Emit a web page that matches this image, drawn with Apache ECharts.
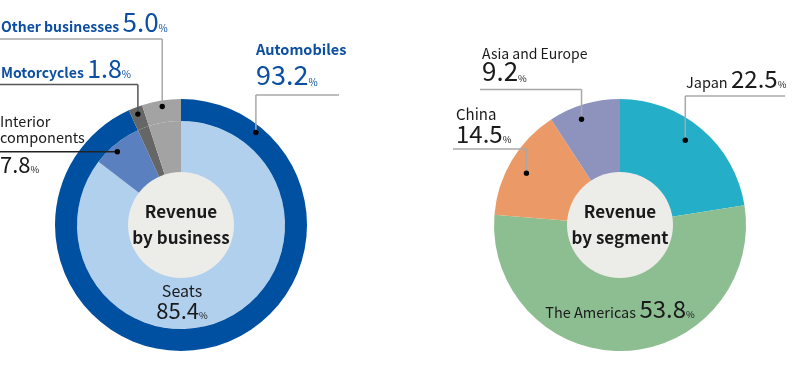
<!DOCTYPE html>
<html><head><meta charset="utf-8">
<script src="https://cdn.jsdelivr.net/npm/echarts@6/dist/echarts.min.js"></script>
<style>html,body{margin:0;padding:0;background:#fff}#c{width:801px;height:371px}</style>
</head><body><div id="c"></div>
<script>
// ---------- data ----------
const businessOuterNames = ['Automobiles', 'Motorcycles', 'Other businesses'];
const businessOuterValues = [93.2, 1.8, 5.0];
const businessInnerNames = ['Seats', 'Interior components', 'Motorcycles', 'Other businesses'];
const businessInnerValues = [85.4, 7.8, 1.8, 5.0];
const segmentNames = ['Japan', 'The Americas', 'China', 'Asia and Europe'];
const segmentValues = [22.5, 53.8, 14.5, 9.2];
const centerTitles = ['Revenue\nby business', 'Revenue\nby segment'];

// ---------- styles / layout ----------
const FONT = "'Noto Sans CJK JP','Noto Sans',sans-serif";
const BLUE = '#0b4ea2', INK = '#1a1a1a';
const C1 = [181, 225], C2 = [620, 225];
const R_IN = 104, R_OUT = 126, R_HOLE = 53;
const K = 0.8; // token box height / font size (baseline ~ box bottom)
const colors = {
  'Automobiles': '#0050a2', 'Motorcycles': '#666666', 'Other businesses': '#a3a3a3',
  'Seats': '#b0d0ee', 'Interior components': '#5a80c0',
  'Japan': '#25aec8', 'The Americas': '#8dbe92', 'China': '#eb9966', 'Asia and Europe': '#8e93bd'
};
const outerSpec = {
  'Automobiles': {x: 256, y: 86, align: 'left', color: BLUE, weight: 'bold', nameFs: 14.5, numFs: 27, pctFs: 10, sep: '\n', gap: 31,
    dot: {r: 119, angle: 39}, line: {y: 95, x2: 339, color: '#a8a8a8'}},
  'Motorcycles': {x: 1, y: 78, align: 'left', color: BLUE, weight: 'bold', nameFs: 14, numFs: 25, pctFs: 10, sep: ' ',
    dot: {r: 119}, line: {y: 84.5, x1: 0, color: '#555555'}},
  'Other businesses': {x: 1, y: 32.5, align: 'left', color: BLUE, weight: 'bold', nameFs: 14, numFs: 26, pctFs: 10, sep: ' ',
    dot: {r: 120}, line: {y: 39, x1: 0, color: '#a8a8a8'}}
};
const innerSpec = {
  'Interior components': {x: 0, y: 173, align: 'left', color: INK, weight: 'normal', nameFs: 14.5, numFs: 22, pctFs: 9.5, sep: '\n',
    text: 'Interior\ncomponents', nameLh: 16, gap: 30, dot: {r: 97, angle: 319}, line: {x1: 0, color: '#222222'}},
  'Seats': {x: 182, y: 319, align: 'center', color: INK, weight: 'normal', nameFs: 16, numFs: 22, pctFs: 9.5, sep: '\n', gap: 22}
};
const segSpec = {
  'Japan': {x: 686, y: 88.5, align: 'left', color: INK, weight: 'normal', nameFs: 14.5, numFs: 24, pctFs: 9.5, sep: ' ',
    dot: {r: 107, angle: 37.6}, line: {y: 96, x2: 785, color: '#a8a8a8'}},
  'Asia and Europe': {x: 482, y: 82, align: 'left', color: INK, weight: 'normal', nameFs: 14, numFs: 26, pctFs: 9.5, sep: '\n', gap: 23,
    dot: {r: 112.5, angle: 340}, line: {y: 89.5, x1: 480, color: '#a8a8a8'}},
  'China': {x: 456, y: 143, align: 'left', color: INK, weight: 'normal', nameFs: 15, numFs: 24, pctFs: 9.5, sep: '\n', gap: 23,
    dot: {r: 107, angle: 299}, line: {y: 149, x1: 453, color: '#a8a8a8'}},
  'The Americas': {x: 620, y: 318, align: 'center', color: INK, weight: 'normal', nameFs: 14.5, numFs: 24, pctFs: 9.5, sep: ' '}
};

function tok(fs, color, weight, lh) {
  return {fontFamily: FONT, fontSize: fs, color: color, fontWeight: weight,
    height: fs * K, lineHeight: lh || fs * K, verticalAlign: 'bottom'};
}
function makeLabel(name, value, spec) {
  if (!spec) return {show: false};
  const nameText = spec.text || name;
  const twoLine = spec.sep === '\n';
  return {
    show: true,
    formatter: '{n|' + nameText + '}' + (twoLine ? '\n' : ' ') + '{v|' + value.toFixed(1) + '}{p|%}',
    rich: {
      n: tok(spec.nameFs, spec.color, spec.weight, spec.nameLh),
      v: tok(spec.numFs, spec.color, 'normal', twoLine ? spec.gap : null),
      p: tok(spec.pctFs, spec.color, 'normal')
    }
  };
}
function buildData(names, values, spec) {
  return names.map((n, i) => ({name: n, value: values[i], itemStyle: {color: colors[n]}, label: makeLabel(n, values[i], spec[n])}));
}
function layoutFor(spec, names) {
  return function (p) {
    const s = spec[names[p.dataIndex]];
    if (!s) return {};
    return {x: s.x, y: s.y, align: s.align, verticalAlign: 'bottom'};
  };
}
function pieBase(center, radius) {
  return {type: 'pie', center: center, radius: radius, startAngle: 90, clockwise: true, animation: false,
    avoidLabelOverlap: false, silent: true, labelLine: {show: false}, emphasis: {disabled: true}};
}
function centerPie(center, title) {
  return Object.assign(pieBase(center, [0, R_HOLE]), {
    data: [{name: title, value: 1, itemStyle: {color: '#ecece8'}}],
    label: {show: true, position: 'center', formatter: title, fontFamily: FONT, fontSize: 17, fontWeight: 'bold', lineHeight: 26, color: INK}
  });
}
// leader lines and dots, placed from the data angles
function leaders(center, names, values, spec) {
  const total = values.reduce((a, b) => a + b, 0);
  const out = [];
  let cum = 0;
  names.forEach((n, i) => {
    const s = spec[n];
    const mid = (cum + values[i] / 2) / total * 360;
    cum += values[i];
    if (!s || !s.dot) return;
    const ang = (s.dot.angle !== undefined ? s.dot.angle : mid) * Math.PI / 180;
    const dx = center[0] + s.dot.r * Math.sin(ang), dy = center[1] - s.dot.r * Math.cos(ang);
    const ly = s.line.y !== undefined ? s.line.y : dy;
    const hx1 = s.line.x1 !== undefined ? s.line.x1 : dx, hx2 = s.line.x2 !== undefined ? s.line.x2 : dx;
    const st = {stroke: s.line.color, lineWidth: 1.5};
    out.push({type: 'polyline', silent: true, z: 10, shape: {points: [[hx1, ly], [hx2, ly]]}, style: st});
    if (Math.abs(ly - dy) > 0.5) out.push({type: 'polyline', silent: true, z: 10, shape: {points: [[dx, ly], [dx, dy]]}, style: st});
    out.push({type: 'circle', silent: true, z: 11, shape: {cx: dx, cy: dy, r: 2.7}, style: {fill: '#000'}});
  });
  return out;
}

const chart = echarts.init(document.getElementById('c'), null, {renderer: 'canvas'});
chart.setOption({
  backgroundColor: '#ffffff',
  series: [
    Object.assign(pieBase(C1, [0, R_IN]), {data: buildData(businessInnerNames, businessInnerValues, innerSpec),
      labelLayout: layoutFor(innerSpec, businessInnerNames)}),
    Object.assign(pieBase(C1, [R_IN, R_OUT]), {data: buildData(businessOuterNames, businessOuterValues, outerSpec),
      labelLayout: layoutFor(outerSpec, businessOuterNames)}),
    centerPie(C1, centerTitles[0]),
    Object.assign(pieBase(C2, [0, R_OUT]), {data: buildData(segmentNames, segmentValues, segSpec),
      labelLayout: layoutFor(segSpec, segmentNames)}),
    centerPie(C2, centerTitles[1])
  ],
  graphic: [].concat(
    leaders(C1, businessInnerNames, businessInnerValues, innerSpec),
    leaders(C1, businessOuterNames, businessOuterValues, outerSpec),
    leaders(C2, segmentNames, segmentValues, segSpec)
  )
});
</script></body></html>
